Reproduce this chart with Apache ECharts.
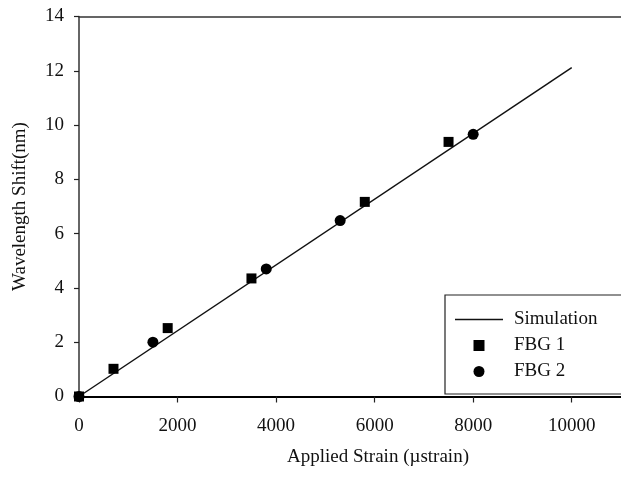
<!DOCTYPE html>
<html>
<head>
<meta charset="utf-8">
<script src="https://cdn.jsdelivr.net/npm/echarts@6/dist/echarts.min.js"></script>
<style>
  html, body { margin: 0; padding: 0; background: #fff; }
  #chart { width: 621px; height: 478px; }
</style>
</head>
<body>
<div id="chart"></div>
<script>
// simulated response (straight line)
const simulation = [[0, 0], [10000, 12.12]];
// measured points
const fbg1 = [[0, 0], [700, 1.02], [1800, 2.52], [3500, 4.35], [5800, 7.17], [7500, 9.38]];
const fbg2 = [[0, 0], [1500, 2.0], [3800, 4.7], [5300, 6.48], [8000, 9.66]];
const seriesNames = ["Simulation", "FBG 1", "FBG 2"];

const font = "Liberation Serif";
const ink = "#111";

const myChart = echarts.init(document.getElementById("chart"));
const option = {
  animation: false,
  grid: {
    left: 79,
    top: 16.5,
    right: -2.5,
    bottom: 81.5,
  },
  legend: {
    orient: "vertical",
    left: 445,
    top: 295,
    width: 175,
    padding: [15, 60, 13, 10],
    borderColor: "#222",
    borderWidth: 1.2,
    backgroundColor: "#fff",
    itemWidth: 48,
    itemHeight: 11,
    itemGap: 7,
    data: [
      { name: seriesNames[0], icon: "path://M0,0h48v1.4h-48z" },
      { name: seriesNames[1], icon: "path://M0,0h10v10h-10z" },
      { name: seriesNames[2], icon: "circle" },
    ],
    textStyle: { fontFamily: font, fontSize: 19, color: ink, padding: [0, 0, 0, 6] },
  },
  xAxis: [
    {
      type: "value",
      min: 0,
      max: 11000,
      interval: 2000,
      name: "Applied Strain (\u00b5strain)",
      nameLocation: "middle",
      nameGap: 51,
      nameTextStyle: { fontFamily: font, fontSize: 19, color: ink, padding: [0, 0, 0, 56] },
      axisLine: { onZero: false, lineStyle: { color: "#000", width: 2 } },
      axisTick: { show: true, length: 6, lineStyle: { color: "#222", width: 1.2 } },
      axisLabel: {
        fontFamily: font, fontSize: 19, color: ink, margin: 20,
        showMaxLabel: false,
        formatter: (v) => String(v),
      },
      splitLine: { show: false },
    },
    {
      // plain frame line along the top
      type: "value",
      position: "top",
      min: 0,
      max: 11000,
      axisLine: { show: true, onZero: false, lineStyle: { color: "#333", width: 1.5 } },
      axisTick: { show: false },
      axisLabel: { show: false },
      splitLine: { show: false },
    },
  ],
  yAxis: {
    type: "value",
    min: 0,
    max: 14,
    interval: 2,
    name: "Wavelength Shift(nm)",
    nameLocation: "middle",
    nameGap: 49,
    nameTextStyle: { fontFamily: font, fontSize: 19, color: ink },
    axisLine: { show: true, onZero: false, lineStyle: { color: "#333", width: 1.5 } },
    axisTick: { show: true, length: 5, lineStyle: { color: "#222", width: 1.2 } },
    axisLabel: { fontFamily: font, fontSize: 19, color: ink, margin: 15 },
    splitLine: { show: false },
  },
  series: [
    {
      name: seriesNames[0],
      type: "line",
      data: simulation,
      symbol: "none",
      lineStyle: { color: ink, width: 1.5 },
      itemStyle: { color: ink },
      z: 2,
    },
    {
      name: seriesNames[1],
      type: "scatter",
      data: fbg1,
      symbol: "rect",
      symbolSize: 10,
      itemStyle: { color: "#000", opacity: 1 },
      z: 3,
    },
    {
      name: seriesNames[2],
      type: "scatter",
      data: fbg2,
      symbol: "circle",
      symbolSize: 11,
      itemStyle: { color: "#000", opacity: 1 },
      z: 3,
    },
  ],
};
option && myChart.setOption(option);
window.addEventListener("resize", myChart.resize);
</script>
</body>
</html>
